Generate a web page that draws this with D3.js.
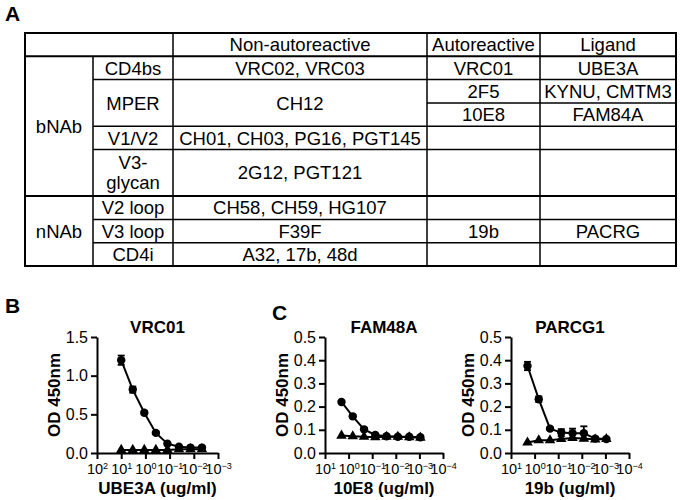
<!DOCTYPE html>
<html>
<head>
<meta charset="utf-8">
<script src="https://cdn.jsdelivr.net/npm/d3@7"></script>
<style>
  body { margin: 0; background: #fff; }
  svg { display: block; font-family: Arial, "Liberation Sans", sans-serif; }
</style>
</head>
<body>
<svg id="fig" width="680" height="500"></svg>
<script>
// ---- table data ----
const headers = ["", "Non-autoreactive", "Autoreactive", "Ligand"];
const groups = ["bNAb", "nNAb"];
const epitopes = ["CD4bs", "MPER", "V1/V2", "V3-\nglycan", "V2 loop", "V3 loop", "CD4i"];
const epitopeGroup = ["bNAb", "bNAb", "bNAb", "bNAb", "nNAb", "nNAb", "nNAb"];
const nonAutoreactive = ["VRC02, VRC03", "CH12", "CH01, CH03, PG16, PGT145", "2G12, PGT121",
  "CH58, CH59, HG107", "F39F", "A32, 17b, 48d"];
const autoreactive = [["VRC01"], ["2F5", "10E8"], [""], [""], [""], ["19b"], [""]];
const ligands = [["UBE3A"], ["KYNU, CMTM3", "FAM84A"], [""], [""], [""], ["PACRG"], [""]];

// ---- ELISA data ----
const concB = [10, 3.33, 1.11, 0.37, 0.123, 0.041, 0.0137, 0.0046];
const vrc01Ligand = [1.20, 0.82, 0.52, 0.26, 0.12, 0.08, 0.07, 0.07];
const vrc01LigandErr = [0.06, 0.04, 0.02, 0.015, 0.01, 0.01, 0.01, 0.01];
const vrc01Control = [0.04, 0.04, 0.04, 0.04, 0.04, 0.05, 0.05, 0.05];

const concC = [2, 0.667, 0.222, 0.074, 0.0247, 0.0082, 0.0027, 0.00091];
const fam48aLigand = [0.22, 0.158, 0.102, 0.078, 0.072, 0.07, 0.07, 0.068];
const fam48aLigandErr = [0.005, 0.005, 0.004, 0.004, 0.003, 0.003, 0.003, 0.003];
const fam48aControl = [0.075, 0.072, 0.07, 0.068, 0.07, 0.07, 0.068, 0.066];

const parcg1Ligand = [0.375, 0.232, 0.105, 0.088, 0.085, 0.085, 0.062, 0.06];
const parcg1LigandErr = [0.018, 0.012, 0.005, 0.015, 0.02, 0.03, 0.008, 0.005];
const parcg1Control = [0.045, 0.055, 0.055, 0.06, 0.065, 0.062, 0.058, 0.06];

const svg = d3.select("#fig");

// ---------------- panel A: table ----------------
const colEdges = [25, 93, 173, 427, 540, 676];
const tableFont = 18.5;

const epLines = epitopes.map(e => e.split("\n"));
const epUnits = epitopes.map((e, i) => Math.max(autoreactive[i].length, epLines[i].length));
const epStart = [];
epUnits.reduce((acc, n, i) => { epStart[i] = acc; return acc + n; }, 1);
const totalUnits = 1 + d3.sum(epUnits);
const ty = d3.scaleLinear().domain([0, totalUnits]).range([33, 266]);

svg.append("text").attr("x", 5).attr("y", 21)
  .attr("font-size", 21).attr("font-weight", "bold").text("A");

const tbl = svg.append("g").attr("fill", "none").attr("stroke", "#000");
const txt = svg.append("g").attr("font-size", tableFont).attr("text-anchor", "middle");

function cellText(x0, x1, u0, u1, lines) {
  const cx = (colEdges[x0] + colEdges[x1]) / 2;
  const cy = (ty(u0) + ty(u1)) / 2;
  const lh = 20;
  lines.forEach((l, k) => {
    txt.append("text")
      .attr("x", cx)
      .attr("y", cy + (k - (lines.length - 1) / 2) * lh)
      .attr("dy", "0.36em")
      .text(l);
  });
}

// header
headers.forEach((h, i) => { if (h) cellText(i + 1, i + 2, 0, 1, [h]); });

// group column
groups.forEach(g => {
  const idx = epitopeGroup.map((d, i) => d === g ? i : -1).filter(i => i >= 0);
  const u0 = epStart[idx[0]];
  const u1 = epStart[idx[idx.length - 1]] + epUnits[idx[idx.length - 1]];
  cellText(0, 1, u0, u1, [g]);
});

epitopes.forEach((e, i) => {
  const u0 = epStart[i], u1 = u0 + epUnits[i];
  cellText(1, 2, u0, u1, epLines[i]);
  cellText(2, 3, u0, u1, [nonAutoreactive[i]]);
  const sub = autoreactive[i].length;
  const step = epUnits[i] / sub;
  autoreactive[i].forEach((a, j) => {
    if (a) cellText(3, 4, u0 + j * step, u0 + (j + 1) * step, [a]);
    if (ligands[i][j]) cellText(4, 5, u0 + j * step, u0 + (j + 1) * step, [ligands[i][j]]);
    if (j > 0) {
      tbl.append("line").attr("x1", colEdges[3]).attr("x2", colEdges[5])
        .attr("y1", ty(u0 + j * step)).attr("y2", ty(u0 + j * step)).attr("stroke-width", 1.5);
    }
  });
  if (i < epitopes.length - 1) {
    const boundary = epitopeGroup[i] !== epitopeGroup[i + 1];
    tbl.append("line")
      .attr("x1", boundary ? colEdges[0] : colEdges[1]).attr("x2", colEdges[5])
      .attr("y1", ty(u1)).attr("y2", ty(u1)).attr("stroke-width", boundary ? 2 : 1.5);
  }
});

// header bottom
tbl.append("line").attr("x1", colEdges[0]).attr("x2", colEdges[5])
  .attr("y1", ty(1)).attr("y2", ty(1)).attr("stroke-width", 2);
// vertical lines
colEdges.slice(1, 5).forEach((x, i) => {
  tbl.append("line").attr("x1", x).attr("x2", x)
    .attr("y1", i === 0 ? ty(1) : ty(0)).attr("y2", ty(totalUnits)).attr("stroke-width", 1.5);
});
tbl.append("rect").attr("x", colEdges[0]).attr("y", ty(0))
  .attr("width", colEdges[5] - colEdges[0]).attr("height", ty(totalUnits) - ty(0))
  .attr("stroke-width", 2);

// ---------------- panels B, C: ELISA curves ----------------
function supLabel(sel) {
  sel.each(function (d) {
    const t = d3.select(this).text(null);
    const e = Math.round(Math.log10(d));
    t.append("tspan").text("10");
    t.append("tspan").attr("dy", "-0.55em").attr("font-size", "0.62em")
      .text(e < 0 ? "\u2212" + (-e) : String(e));
  });
}

function elisa(opt) {
  const x = d3.scaleLog().domain(opt.xDomain).range([opt.left, opt.right]);
  const y = d3.scaleLinear().domain([0, opt.yMax]).range([453, 337]);
  const g = svg.append("g");

  g.append("text").attr("x", (opt.left + opt.right) / 2).attr("y", 333)
    .attr("text-anchor", "middle").attr("font-size", 17).attr("font-weight", "bold")
    .text(opt.title);

  const xTicks = d3.range(Math.log10(opt.xDomain[0]), Math.log10(opt.xDomain[1]) - 1, -1)
    .map(p => Math.pow(10, p));

  const ax = g.append("g").attr("transform", `translate(0,${y(0)})`)
    .call(d3.axisBottom(x).tickValues(xTicks).tickSize(6).tickSizeOuter(0).tickPadding(5));
  ax.selectAll(".tick text").call(supLabel);

  const ay = g.append("g").attr("transform", `translate(${opt.left},0)`)
    .call(d3.axisLeft(y).tickValues(opt.yTicks).tickFormat(d3.format(".1f"))
      .tickSize(6).tickSizeOuter(0).tickPadding(3));

  ax.attr("font-size", 14.5);
  ay.attr("font-size", 16);
  [ax, ay].forEach(a => {
    a.attr("font-family", "Arial, 'Liberation Sans', sans-serif");
    a.selectAll("path, line").attr("stroke-width", 2);
    a.selectAll("text").attr("fill", "#000");
  });

  g.append("text")
    .attr("transform", `translate(${opt.left - 37},${(y(0) + y(opt.yMax)) / 2}) rotate(-90)`)
    .attr("text-anchor", "middle").attr("font-size", 17).attr("font-weight", "bold")
    .text("OD 450nm");

  g.append("text").attr("x", (opt.left + opt.right) / 2).attr("y", 494)
    .attr("text-anchor", "middle").attr("font-size", 17).attr("font-weight", "bold")
    .text(opt.xTitle);

  const line = d3.line().x(d => x(d[0])).y(d => y(d[1]));
  const ctrl = d3.zip(opt.conc, opt.control);
  const lig = d3.zip(opt.conc, opt.ligand, opt.err);

  g.append("path").datum(ctrl).attr("d", line)
    .attr("fill", "none").attr("stroke", "#000").attr("stroke-width", 2);
  g.selectAll("path.tri").data(ctrl).join("path").attr("class", "tri")
    .attr("transform", d => `translate(${x(d[0])},${y(d[1])})`)
    .attr("d", d3.symbol(d3.symbolTriangle, 48));

  g.append("path").datum(lig).attr("d", line)
    .attr("fill", "none").attr("stroke", "#000").attr("stroke-width", 2);
  const eb = g.selectAll("g.err").data(lig).join("g").attr("class", "err")
    .attr("stroke", "#000").attr("stroke-width", 1.8);
  eb.append("line").attr("x1", d => x(d[0])).attr("x2", d => x(d[0]))
    .attr("y1", d => y(d[1] - d[2])).attr("y2", d => y(d[1] + d[2]));
  eb.append("line").attr("x1", d => x(d[0]) - 3.5).attr("x2", d => x(d[0]) + 3.5)
    .attr("y1", d => y(d[1] + d[2])).attr("y2", d => y(d[1] + d[2]));
  eb.append("line").attr("x1", d => x(d[0]) - 3.5).attr("x2", d => x(d[0]) + 3.5)
    .attr("y1", d => y(d[1] - d[2])).attr("y2", d => y(d[1] - d[2]));
  g.selectAll("circle.pt").data(lig).join("circle").attr("class", "pt")
    .attr("cx", d => x(d[0])).attr("cy", d => y(d[1])).attr("r", 4.2);
}

svg.append("text").attr("x", 5).attr("y", 313)
  .attr("font-size", 21).attr("font-weight", "bold").text("B");
svg.append("text").attr("x", 272).attr("y", 320)
  .attr("font-size", 21).attr("font-weight", "bold").text("C");

elisa({ left: 97, right: 218, xDomain: [100, 0.001], yMax: 1.5, yTicks: [0, 0.5, 1.0, 1.5],
  title: "VRC01", xTitle: "UBE3A (ug/ml)", conc: concB,
  ligand: vrc01Ligand, err: vrc01LigandErr, control: vrc01Control });
elisa({ left: 325, right: 443, xDomain: [10, 0.0001], yMax: 0.5, yTicks: [0, 0.1, 0.2, 0.3, 0.4, 0.5],
  title: "FAM48A", xTitle: "10E8 (ug/ml)", conc: concC,
  ligand: fam48aLigand, err: fam48aLigandErr, control: fam48aControl });
elisa({ left: 511, right: 629, xDomain: [10, 0.0001], yMax: 0.5, yTicks: [0, 0.1, 0.2, 0.3, 0.4, 0.5],
  title: "PARCG1", xTitle: "19b (ug/ml)", conc: concC,
  ligand: parcg1Ligand, err: parcg1LigandErr, control: parcg1Control });
</script>
</body>
</html>
